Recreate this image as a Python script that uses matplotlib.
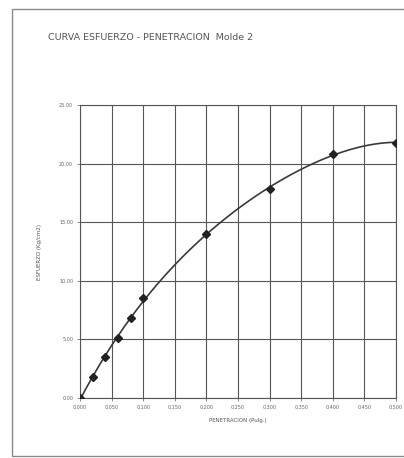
import numpy as np
import matplotlib
matplotlib.use("Agg")
import matplotlib.pyplot as plt
from matplotlib.patches import Rectangle

# penetration (in) and stress (kg/cm2) readings
penetracion = [0.00, 0.02, 0.04, 0.06, 0.08, 0.10, 0.20, 0.30, 0.40, 0.50]
esfuerzo = [0.00, 1.75, 3.50, 5.15, 6.80, 8.50, 14.00, 17.85, 20.80, 21.80]

x_ticks = np.arange(0, 0.5001, 0.05)
y_ticks = np.arange(0, 25.01, 5)

fig = plt.figure(figsize=(4.04, 4.58), dpi=100)

# page frame
fig.patches.append(Rectangle((12 / 404, 2 / 458), 1.0, 447 / 458,
                             transform=fig.transFigure, fill=False,
                             edgecolor="#8a8a8a", linewidth=1.0))

ax = fig.add_axes([80 / 404, 1 - 398 / 458, 316 / 404, 293 / 458])

# trend curve through the readings
coef = np.polyfit(penetracion, esfuerzo, 4)
xs = np.linspace(0, 0.5, 200)
ax.plot(xs, np.polyval(coef, xs), color="#3a3a3a", lw=1.2, zorder=3)
ax.plot(penetracion, esfuerzo, "D", color="#222222", ms=4.5, zorder=4)

ax.set_xlim(0, 0.5)
ax.set_ylim(0, 25)
ax.set_xticks(x_ticks)
ax.set_yticks(y_ticks)
ax.set_xticklabels([f"{v:.3f}" for v in x_ticks], fontsize=3.5, color="#666666")
ax.set_yticklabels([f"{v:.2f}" for v in y_ticks], fontsize=3.5, color="#666666")
ax.tick_params(length=2, width=0.6, color="#777777", pad=3)
ax.grid(True, color="#555555", lw=0.8)
for s in ax.spines.values():
    s.set_color("#555555")
    s.set_linewidth(0.8)

ax.set_xlabel("PENETRACION (Pulg.)", fontsize=4, color="#555555", labelpad=6)
ax.set_ylabel("ESFUERZO (Kg/cm2)", fontsize=4, color="#555555", labelpad=12)

fig.text(48 / 404, 1 - 38 / 458, "CURVA ESFUERZO - PENETRACION  Molde 2",
         fontsize=6.8, color="#555555", va="center", ha="left")

fig.savefig("out.png", dpi=100)
